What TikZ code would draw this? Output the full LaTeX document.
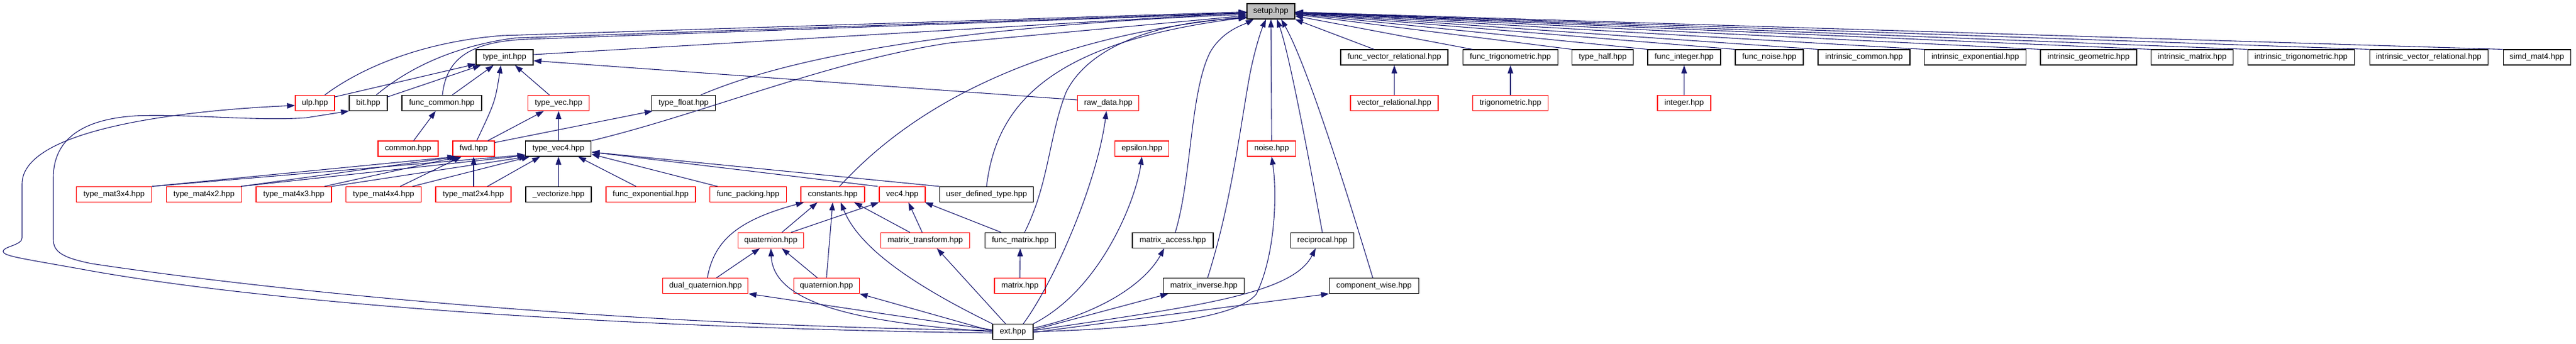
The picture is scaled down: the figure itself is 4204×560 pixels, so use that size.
\documentclass[tikz,border=0pt]{standalone}
\usepackage{fontspec}
\setmainfont{Liberation Sans}
\usetikzlibrary{arrows.meta}
\definecolor{edgecol}{HTML}{191970}
\definecolor{setupgray}{HTML}{BFBFBF}
\begin{document}
\begin{tikzpicture}[x=1pt,y=-1pt,
  box/.style={draw=black, line width=1.1pt, fill=white, inner sep=0pt, minimum height=25pt,
    font=\fontsize{13}{15}\selectfont, text height=9.5pt, text depth=2.7pt, anchor=center},
  rbox/.style={box, draw=red},
  lnk/.style={draw=edgecol, line width=1.1pt, -{Triangle[length=13pt,width=9pt]}},
]
\useasboundingbox (0,0) rectangle (4204,560);
% row 0
\node[box, fill=setupgray, minimum width=78pt] (setup) at (2074,18.5) {setup.hpp};
% row 1
\node[box, minimum width=93pt] (tint) at (823.5,93.5) {type\_int.hpp};
\node[box, minimum width=175pt] (fvr) at (2275.5,93.5) {func\_vector\_relational.hpp};
\node[box, minimum width=155pt] (ftrig) at (2465,93.5) {func\_trigonometric.hpp};
\node[box, minimum width=100pt] (thalf) at (2615.6,93.5) {type\_half.hpp};
\node[box, minimum width=119pt] (fint) at (2748.5,93.5) {func\_integer.hpp};
\node[box, minimum width=111pt] (fnoise) at (2887.5,93.5) {func\_noise.hpp};
\node[box, minimum width=150pt] (icom) at (3042,93.5) {intrinsic\_common.hpp};
\node[box, minimum width=166pt] (iexp) at (3223.6,93.5) {intrinsic\_exponential.hpp};
\node[box, minimum width=157pt] (igeo) at (3408.5,93.5) {intrinsic\_geometric.hpp};
\node[box, minimum width=134pt] (imat) at (3577.6,93.5) {intrinsic\_matrix.hpp};
\node[box, minimum width=174pt] (itrig) at (3755.2,93.5) {intrinsic\_trigonometric.hpp};
\node[box, minimum width=193pt] (ivr) at (3963.5,93.5) {intrinsic\_vector\_relational.hpp};
\node[box, minimum width=110pt] (simd) at (4140,93.5) {simd\_mat4.hpp};
% row 2
\node[rbox, minimum width=64pt] (ulp) at (514,168) {ulp.hpp};
\node[box, minimum width=62pt] (bit) at (601,168) {bit.hpp};
\node[box, minimum width=130pt] (fcom) at (721,168) {func\_common.hpp};
\node[rbox, minimum width=100pt] (tvec) at (911.6,168) {type\_vec.hpp};
\node[box, minimum width=104pt] (tfloat) at (1115.6,168) {type\_float.hpp};
\node[rbox, minimum width=100pt] (rawd) at (1808.7,168) {raw\_data.hpp};
\node[rbox, minimum width=143pt] (vrel) at (2275.5,168) {vector\_relational.hpp};
\node[rbox, minimum width=123pt] (trig) at (2465,168) {trigonometric.hpp};
\node[rbox, minimum width=87pt] (intg) at (2748.5,168) {integer.hpp};
% row 3
\node[rbox, minimum width=98pt] (common) at (666,242.5) {common.hpp};
\node[rbox, minimum width=68pt] (fwd) at (773,242.5) {fwd.hpp};
\node[box, minimum width=107pt] (tv4) at (911.4,242.5) {type\_vec4.hpp};
\node[rbox, minimum width=88pt] (eps) at (1863.6,242.5) {epsilon.hpp};
\node[rbox, minimum width=79pt] (noise) at (2075.3,242.5) {noise.hpp};
% row 4
\node[rbox, minimum width=123pt] (m34) at (186.2,317) {type\_mat3x4.hpp};
\node[rbox, minimum width=123pt] (m42) at (333,317) {type\_mat4x2.hpp};
\node[rbox, minimum width=123pt] (m43) at (479.5,317) {type\_mat4x3.hpp};
\node[rbox, minimum width=123pt] (m44) at (626.1,317) {type\_mat4x4.hpp};
\node[rbox, minimum width=123pt] (m24) at (772.5,317) {type\_mat2x4.hpp};
\node[box, minimum width=107pt] (vect) at (911.5,317) {\_vectorize.hpp};
\node[rbox, minimum width=146pt] (fexp) at (1062,317) {func\_exponential.hpp};
\node[rbox, minimum width=125pt] (fpack) at (1220.8,317) {func\_packing.hpp};
\node[rbox, minimum width=104pt] (const) at (1359,317) {constants.hpp};
\node[rbox, minimum width=75pt] (vec4) at (1472.5,317) {vec4.hpp};
\node[box, minimum width=153pt] (udt) at (1610,317) {user\_defined\_type.hpp};
% row 5
\node[rbox, minimum width=107pt] (q1) at (1258,392) {quaternion.hpp};
\node[rbox, minimum width=145.5pt] (mt) at (1510,392) {matrix\_transform.hpp};
\node[box, minimum width=114.5pt] (fmat) at (1665,392) {func\_matrix.hpp};
\node[box, minimum width=132pt] (macc) at (1914,392) {matrix\_access.hpp};
\node[box, minimum width=103pt] (recip) at (2158,392) {reciprocal.hpp};
% row 6
\node[rbox, minimum width=139pt] (dq) at (1151.4,466) {dual\_quaternion.hpp};
\node[rbox, minimum width=107pt] (q2) at (1348.8,466) {quaternion.hpp};
\node[rbox, minimum width=83pt] (matx) at (1664.5,466) {matrix.hpp};
\node[box, minimum width=132pt] (minv) at (1964.8,466) {matrix\_inverse.hpp};
\node[box, minimum width=145.5pt] (cw) at (2242.3,466) {component\_wise.hpp};
% row 7
\node[box, minimum width=66pt] (ext) at (1653,541) {ext.hpp};

% ---- edges into setup
\draw[lnk] ([yshift=4.5pt]tint.east) -- (setup);
\draw[lnk] ([xshift=16pt]ulp.north) .. controls (590,110) and (690,68) .. (820,58) -- ([yshift=-1pt]setup.west);
\draw[lnk] ([xshift=13pt]bit.north) .. controls (650,125) and (720,78) .. (840,62) -- ([yshift=-2pt]setup.west);
\draw[lnk] ([xshift=1pt]fcom.north) .. controls (728,100) and (760,68) .. (860,64) -- ([yshift=-3pt]setup.west);
\draw[lnk] ([xshift=28pt]tfloat.north) .. controls (1260,105) and (1500,45) .. ([yshift=-5pt]setup.west);
\draw[lnk] (tv4.north east) .. controls (1150,185) and (1350,100) .. (1550,70) -- ([yshift=-7pt]setup.west);
\draw[lnk] ([xshift=11pt]const.north) .. controls (1430,240) and (1600,70) .. ([yshift=-9pt]setup.west);
\draw[lnk] (udt.north) .. controls (1625,180) and (1700,70) .. ([yshift=-10pt]setup.west);
\draw[lnk] ([xshift=7pt]fmat.north) .. controls (1712,300) and (1712,220) .. (1740,150) .. controls (1780,70) and (1900,35) .. ([yshift=-11pt]setup.west);
\draw[lnk] ([xshift=4pt]macc.north) .. controls (1945,290) and (1942,150) .. (1975,85) .. controls (1995,50) and (2030,40) .. ([xshift=-28pt]setup.south);
\draw[lnk] ([xshift=6pt]minv.north) .. controls (2010,330) and (2025,200) .. (2040,120) .. controls (2048,80) and (2058,50) .. ([xshift=-8pt]setup.south);
\draw[lnk] (noise) -- (setup);
\draw[lnk] (recip.north) .. controls (2140,280) and (2105,90) .. ([xshift=10pt]setup.south);
\draw[lnk] ([xshift=-2pt]cw.north) .. controls (2200,320) and (2135,110) .. ([xshift=17pt]setup.south);
\draw[lnk] ([xshift=-33pt]fvr.north) -- (setup.south east);
\draw[lnk] ([xshift=-62pt]ftrig.north) -- (setup);
\draw[lnk] (thalf.north west) -- (setup);
\draw[lnk] (fint.north west) -- (setup);
\draw[lnk] (fnoise.north west) -- (setup);
\draw[lnk] (icom.north west) -- (setup);
\draw[lnk] (iexp.north west) -- (setup);
\draw[lnk] (igeo.north west) -- (setup);
\draw[lnk] (imat.north west) -- (setup);
\draw[lnk] (itrig.north west) -- (setup);
\draw[lnk] (ivr.north west) -- (setup);
\draw[lnk] (simd.north west) -- (setup);

% ---- right-hand pairs
\draw[lnk] (vrel) -- (fvr);
\draw[lnk] (trig) -- (ftrig);
\draw[lnk] (intg) -- (fint);

% ---- type_int and friends
\draw[lnk] ([yshift=10pt]ulp.east) -- (tint);
\draw[lnk] ([yshift=10pt]bit.east) -- (tint);
\draw[lnk] ([xshift=17pt]fcom.north) -- ([xshift=-18pt]tint.south);
\draw[lnk] ([xshift=5pt]fwd.north) .. controls (808,166) .. ([xshift=-6pt]tint.south);
\draw[lnk] ([xshift=-15pt]tvec.north) -- ([xshift=17pt]tint.south);
\draw[lnk] ([yshift=5pt]rawd.west) -- ([yshift=-5.5pt]tint.east);
\draw[lnk] ([xshift=9pt]common.north) -- ([xshift=-10pt]fcom.south);
\draw[lnk] ([xshift=23pt]fwd.north) -- ([xshift=-24pt]tvec.south);
\draw[lnk] (tv4) -- (tvec);
\draw[lnk] ([yshift=-3pt]fwd.north east) -- ([xshift=2pt]tfloat.south west);

% ---- matrices to fwd and type_vec4
\draw[lnk] (m34.north east) -- ([xshift=-30pt]fwd.south);
\draw[lnk] (m34.north east) -- ([yshift=3pt]tv4.south west);
\draw[lnk] ([xshift=-2pt]m42.north east) -- ([xshift=-27pt]fwd.south);
\draw[lnk] ([xshift=-2pt]m42.north east) -- ([yshift=2pt]tv4.south west);
\draw[lnk] ([xshift=-12pt]m43.north east) -- ([xshift=-24pt]fwd.south);
\draw[lnk] (m43.north east) -- ([xshift=3pt]tv4.south west);
\draw[lnk] ([xshift=-35pt]m44.north east) -- ([xshift=-20pt]fwd.south);
\draw[lnk] ([xshift=-15pt]m44.north east) -- ([xshift=7pt]tv4.south west);
\draw[lnk] ([xshift=0.5pt]m24.north) -- (fwd.south);
\draw[lnk] ([xshift=23pt]m24.north) -- ([xshift=-30pt]tv4.south);
\draw[lnk] (vect) -- (tv4);
\draw[lnk] ([xshift=-24pt]fexp.north) -- ([xshift=32pt]tv4.south);
\draw[lnk] ([xshift=-50pt]fpack.north) -- ([yshift=4pt]tv4.south east);
\draw[lnk] ([xshift=-2pt]vec4.north west) -- ([yshift=-5.5pt]tv4.east);
\draw[lnk] (udt.north west) -- ([yshift=-5.5pt]tv4.east);

% ---- lower part
\draw[lnk] ([xshift=3pt]dq.north) .. controls (1165,395) and (1200,360) .. ([xshift=-47pt]const.south);
\draw[lnk] ([xshift=18pt]q1.north) -- ([xshift=-25pt]const.south);
\draw[lnk] (q2.north) -- (const.south);
\draw[lnk] (ext.north west) .. controls (1480,460) and (1400,400) .. ([xshift=13pt]const.south);
\draw[lnk] ([xshift=-25pt]mt.north) -- ([xshift=35pt]const.south);
\draw[lnk] ([xshift=33pt]q1.north) -- (vec4.south west);
\draw[lnk] ([xshift=-5pt]mt.north) -- ([xshift=10pt]vec4.south);
\draw[lnk] ([xshift=-31pt]fmat.north) -- ([xshift=-1pt]vec4.south east);
\draw[lnk] (matx) -- (fmat);
\draw[lnk] ([xshift=18pt]dq.north) -- ([xshift=-18pt]q1.south);
\draw[lnk] ([xshift=-15pt]q2.north) -- ([xshift=18pt]q1.south);
\draw[lnk] ([yshift=3pt]ext.west) -- (dq.south east);
\draw[lnk] (ext.west) .. controls (1380,525) and (1262,490) .. (q1.south);
\draw[lnk] ([yshift=1pt]ext.west) -- (q2.south east);
\draw[lnk] ([xshift=-12pt]ext.north) -- ([xshift=19pt]mt.south);
\draw[lnk] ([xshift=17pt]ext.north) .. controls (1720,460) and (1790,300) .. ([xshift=-3pt]rawd.south);
\draw[lnk] (ext.north east) .. controls (1800,470) and (1855,320) .. (eps.south);
\draw[lnk] ([yshift=6pt]ext.east) .. controls (1800,510) and (1870,460) .. ([xshift=-14pt]macc.south);
\draw[lnk] ([yshift=3pt]ext.east) -- ([xshift=-58pt]minv.south);
\draw[lnk] (ext.east) .. controls (1900,535) and (2020,515) .. (2050,480) .. controls (2080,420) and (2085,320) .. (noise.south);
\draw[lnk] ([yshift=2pt]ext.east) .. controls (1950,500) and (2110,480) .. ([xshift=-11pt]recip.south);
\draw[lnk] ([yshift=-1pt]ext.east) -- (cw.south west);

% ---- long curves from ext to ulp and bit
\draw[lnk] ([yshift=-2pt]ext.west) .. controls (1000,535) and (450,495) .. (150,442)
  .. controls (40,422) and (5,418) .. (5,410) .. controls (5,402) and (36,400) .. (36,388)
  -- (36,300) .. controls (36,210) and (300,180) .. ([yshift=-4pt]ulp.west);
\draw[lnk] ([yshift=2pt]ext.west) .. controls (1000,530) and (450,475) .. (150,430)
  .. controls (100,420) and (87,410) .. (87,390) -- (87,290)
  .. controls (87,230) and (130,195) .. (220,189) .. controls (300,185) and (420,198) .. (500,192)
  -- (bit.south west);
\end{tikzpicture}
\end{document}
